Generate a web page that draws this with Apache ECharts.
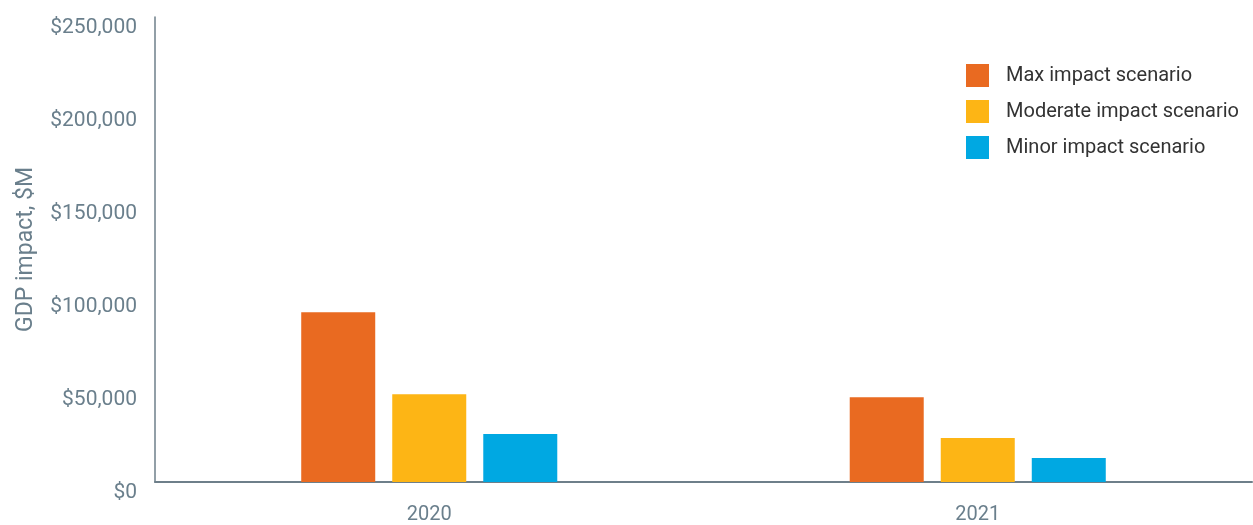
<!DOCTYPE html>
<html><head><meta charset="utf-8">
<script src="https://cdn.jsdelivr.net/npm/echarts@6/dist/echarts.min.js"></script>
<style>html,body{margin:0;padding:0;background:#fff}#c{width:1253px;height:525px}</style>
</head><body><div id="c"></div>
<script>
const categories = ['2020', '2021'];
const seriesNames = ['Max impact scenario', 'Moderate impact scenario', 'Minor impact scenario'];
const maxImpact = [91200, 45600];
const moderateImpact = [47200, 23600];
const minorImpact = [25800, 12900];
const colors = ['#E96A21', '#FDB515', '#00A8E2'];
const txt = '#6A7F8C';
const font = 'Roboto';
const chart = echarts.init(document.getElementById('c'));
chart.setOption({
  animation: false,
  color: colors,
  grid: {left: 155, right: 1, top: 17, bottom: 42},
  legend: {
    orient: 'vertical', right: 9, top: 59,
    itemWidth: 23, itemHeight: 23, itemGap: 13,
    icon: 'rect',
    textStyle: {fontFamily: font, fontSize: 20, color: '#333', padding: [0, 0, 0, 12]},
    data: seriesNames
  },
  xAxis: {
    type: 'category', data: categories,
    axisLine: {lineStyle: {color: '#6E7F8A', width: 2}},
    axisTick: {show: false},
    axisLabel: {fontFamily: font, fontSize: 20, color: txt, margin: 23}
  },
  yAxis: {
    type: 'value', min: 0, max: 250000, interval: 50000,
    name: 'GDP impact, $M', nameLocation: 'middle', nameGap: 117,
    nameTextStyle: {fontFamily: font, fontSize: 23, color: txt},
    axisLine: {show: true, lineStyle: {color: '#6E7F8A', width: 1.5}},
    axisTick: {show: false},
    splitLine: {show: false},
    axisLabel: {fontFamily: font, fontSize: 21, color: txt, margin: 18, verticalAlign: 'top',
      formatter: v => '$' + v.toLocaleString('en-US')}
  },
  series: [
    {name: seriesNames[0], type: 'bar', data: maxImpact, barWidth: 74, barGap: '23%'},
    {name: seriesNames[1], type: 'bar', data: moderateImpact, barWidth: 74, barGap: '23%'},
    {name: seriesNames[2], type: 'bar', data: minorImpact, barWidth: 74, barGap: '23%'}
  ]
});
</script></body></html>
